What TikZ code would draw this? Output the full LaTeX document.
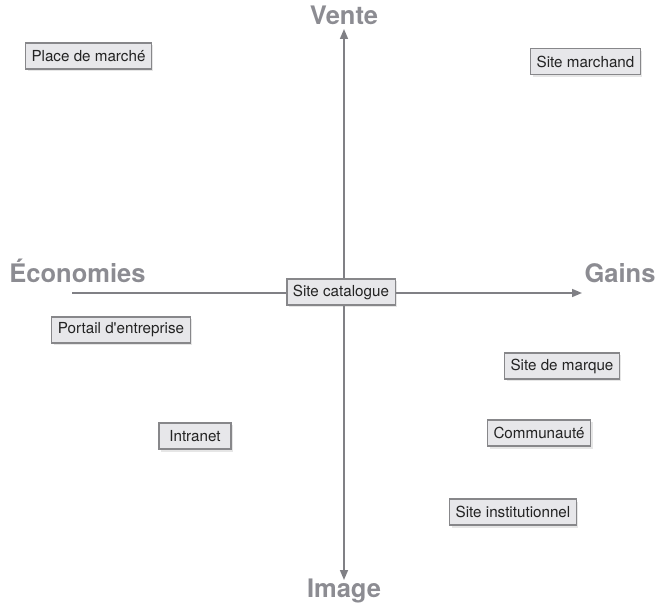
\documentclass[tikz,border=0pt]{standalone}
\usepackage{fontspec}
\setmainfont{TeX Gyre Heros}
\usetikzlibrary{arrows.meta,shadows}
\definecolor{axegris}{RGB}{128,128,133}
\definecolor{titregris}{RGB}{140,140,146}
\definecolor{boitefond}{RGB}{231,231,234}
\definecolor{boitebord}{RGB}{135,135,138}
\definecolor{textegris}{RGB}{35,35,35}

\begin{document}
\begin{tikzpicture}[x=1pt, y=1pt,
  site/.style={draw=boitebord, line width=1.1pt, fill=boitefond, text=textegris,
    font=\fontsize{15.2}{18}\selectfont, inner xsep=6pt, inner ysep=0pt,
    minimum height=26pt,
    drop shadow={opacity=0.2, shadow xshift=2pt, shadow yshift=-2.5pt}},
  pole/.style={text=titregris, font=\fontsize{25.5}{30}\selectfont\bfseries, anchor=base},
  axe/.style={draw=axegris, line width=1.6pt, {Triangle[length=10pt,width=8pt]}-{Triangle[length=10pt,width=8pt]}}]
  \useasboundingbox (0,0) rectangle (656,603);

  % the four poles
  \node[pole] (vente) at (344,578) {Vente};
  \node[pole] (image) at (344,6) {Image};
  \node[pole] (eco) at (77.5,320) {Économies};
  \node[pole] (gains) at (620,320) {Gains};

  % axes
  \coordinate (haut) at (344,574);
  \coordinate (bas) at (344,23);
  \coordinate (gauche) at (72,310);
  \coordinate (droite) at (582,310);
  \draw[axe] (bas) -- (haut);
  \draw[axe, {-Triangle[length=10pt,width=8pt]}] (gauche) -- (droite);

  % sites
  \node[site] (marche) at (88.5,547) {Place de marché};
  \node[site] (marchand) at (585.5,541.5) {Site marchand};
  \node[site] (catalogue) at (341,311) {Site catalogue};
  \node[site] (portail) at (121,273) {Portail d\textquotesingle entreprise};
  \node[site] (marque) at (562,237) {Site de marque};
  \node[site] (communaute) at (539,170) {Communauté};
  \node[site, minimum width=72pt] (intranet) at (195,167) {Intranet};
  \node[site] (institution) at (513,91) {Site institutionnel};
\end{tikzpicture}
\end{document}
